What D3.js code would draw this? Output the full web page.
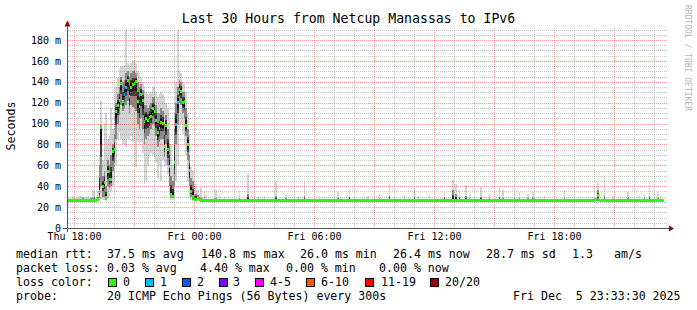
<!DOCTYPE html>
<html>
<head>
<meta charset="utf-8">
<script src="https://cdn.jsdelivr.net/npm/d3@7"></script>
<style>
  body { margin: 0; background: #fff; }
  svg { display: block; font-family: "DejaVu Sans Mono", monospace; }
</style>
</head>
<body>
<svg id="chart" width="697" height="310"></svg>
<script>
// first 5 minute step starts Thu 17:39, graph covers 30 hours
const t0 = new Date(2025, 11, 4, 17, 39);
const nSteps = 358;

// busy part of the graph, steps 0..83 (median + smoke percentiles, ms)
const medBusy = [26.6,26.6,26.5,26.5,26.6,26.6,26.5,26.5,26.6,26.8,26.6,26.5,26.5,26.6,26.6,26.5,26.7,26.6,
  27,35,96,40,44,29,54,46,46,73,75,112,
  117,122,138,121,128,135,141,126,135,137,138,140,
  121,116,128,122,102,105,103,106,107,114,112,103,
  91,95,101,100,78,98,75,59,32,30,63,99,
  120,133,131,120,121,98,80,55,35,30,27,27.5,
  28,27.5,26.8,26.5,26.5,26.5];
const loBusy = [25.8,25.8,25.9,25.8,25.8,25.9,25.8,25.8,25.8,25.9,25.8,25.8,25.8,25.8,25.9,25.8,25.8,25.8,
  26,27,28,27,27,26,28,30,35,40,45,60,
  85,92,85,80,80,78,85,85,88,82,85,58,
  82,80,82,72,42,45,60,68,72,70,68,62,
  48,60,45,65,58,60,52,32,27,27,28,45,
  60,95,100,90,80,70,45,30,27,26,26,26,
  26,26,26,26,26,26];
const q1Busy = [26.1,26.1,26.2,26.1,26.1,26.2,26.1,26.1,26.2,26.3,26.1,26.1,26.1,26.2,26.2,26.1,26.3,26.2,
  26.5,29,40,30,30,27,40,38,40,55,62,85,
  100,108,118,112,115,118,122,110,118,116,115,112,
  100,95,105,95,80,85,88,90,95,100,98,88,
  78,82,85,85,68,80,60,40,29,29,40,80,
  100,120,118,110,105,88,65,40,30,27,26.5,26.5,
  27,26.5,26.3,26.2,26.2,26.2];
const q3Busy = [27.8,27.6,27.9,27.5,27.8,28,27.6,27.7,28.2,28.5,27.9,27.6,27.8,28,28.3,29,30,28,
  30,60,99,50,55,40,65,60,70,80,90,120,
  128,135,145,140,142,148,150,145,148,150,150,148,
  140,135,138,132,118,118,115,118,120,125,125,118,
  110,110,115,112,100,108,95,80,50,45,95,120,
  135,142,140,130,130,115,95,70,48,45,32,33,
  32,30,29,28,28,28];
const hiBusy = [29,30,29,31,29,29,30,32,31,30,29,30,31,29,30,36,35,30,
  35,70,122,65,100,110,85,88,115,95,118,135,
  145,152,155,155,156,191,158,156,158,160,161,158,
  150,148,145,140,135,130,128,130,130,135,135,130,
  125,128,130,128,125,120,115,105,80,60,110,140,
  190,150,148,140,138,130,110,90,58,55,40,42,
  36,33,38,30,34,32];

// steps with one lost ping out of 20
const lossSteps = [34, 35, 65, 66];

// quiet part, steps 84..357
const quietMedian = 26.5;
const quietBand = [25.8, 26.1, 27.6];   // lo, q1, q3
const spikeStep = [89,91,94,103,108,114,118,125,131,138,142,151,162,169,180,187,193,202,208,210,217,226,231,233,235,239,241,248,253,259,261,268,271,276,279,286,298,318,322,327,336,343,346,349,354];
const spikeHi = [36,31,30,35,52,30,31,44,32,30,45,31,34,37,31,33,42,32,38,31,32,34,46,42,36,41,33,39,33,39,36,33,34,33,34,31,36,43,49,31,34,32,33,43,34];
const spikeMid = [29,28,28,29,33,28,28,31,29,28,31,28,29,30,28,29,31,28,30,28,28,30,36,33,30,31,29,30,29,30,29,29,29,29,29,28,29,36,31,28,29,28,29,31,29];
const bumpStep = [317, 318];
const bumpMed = [27.5, 31.5];

const yTicks = [0, 20, 40, 60, 80, 100, 120, 140, 160, 180];

const lossColors = ["#26ff00", "#00b8ff", "#0059ff", "#7e00ff", "#ff00ff", "#ff5500", "#ff0000", "#a10000"];
const lossLabels = ["0", "1", "2", "3", "4-5", "6-10", "11-19", "20/20"];

const rttRow = ["median rtt:", "37.5 ms avg", "140.8 ms max", "26.0 ms min", "26.4 ms now", "28.7 ms sd", "1.3", "am/s"];
const lossRow = ["packet loss:", "0.03 % avg", "4.40 % max", "0.00 % min", "0.00 % now"];
const probeRow = ["probe:", "20 ICMP Echo Pings (56 Bytes) every 300s", "Fri Dec  5 23:33:30 2025"];

// ---- build rows
let rows = [];
for (let i = 0; i < nSteps; i++) {
  let r = {i: i, loss: 0};
  if (i < medBusy.length) {
    r.med = medBusy[i]; r.lo = loBusy[i]; r.q1 = q1Busy[i]; r.q3 = q3Busy[i]; r.hi = hiBusy[i];
  } else {
    r.med = quietMedian; r.lo = quietBand[0]; r.q1 = quietBand[1]; r.q3 = quietBand[2]; r.hi = quietBand[2];
  }
  if (lossSteps.includes(i)) r.loss = 1;
  let b = bumpStep.indexOf(i);
  if (b >= 0) r.med = bumpMed[b];
  let s = spikeStep.indexOf(i);
  if (s >= 0) { r.hi = spikeHi[s]; r.q3 = spikeMid[s]; }
  r.t = d3.timeMinute.offset(t0, i * 5);
  r.t1 = d3.timeMinute.offset(t0, (i + 1) * 5);
  rows.push(r);
}

const svg = d3.select("#chart");
const x = d3.scaleTime().domain([t0, d3.timeHour.offset(t0, 30)]).range([67, 667]);
const y = d3.scaleLinear().domain([0, 191.5]).range([228, 28]);

svg.append("rect").attr("width", 697).attr("height", 310).attr("fill", "#fff");

// dotted grid via tiny patterns (1px on, 1px off)
const defs = svg.append("defs");
function dots(id, w, h, color) {
  const p = defs.append("pattern").attr("id", id).attr("patternUnits", "userSpaceOnUse")
    .attr("width", w).attr("height", h);
  p.append("rect").attr("width", 1).attr("height", 1).attr("fill", color);
}
const minorCol = "rgba(110,110,110,0.42)";
const majorCol = "rgba(230,50,50,0.48)";
dots("hMinor", 2, 1, minorCol);
dots("vMinor", 1, 2, minorCol);
dots("hMajor", 2, 1, majorCol);
dots("vMajor", 1, 2, majorCol);

// ---- smoke
const smoke = svg.append("g").attr("shape-rendering", "crispEdges");
function band(lo, hi, color) {
  smoke.append("g").selectAll("rect").data(rows).join("rect")
    .attr("x", d => x(d.t))
    .attr("width", d => x(d.t1) - x(d.t))
    .attr("y", d => y(hi(d)))
    .attr("height", d => Math.max(0, y(lo(d)) - y(hi(d))))
    .attr("fill", color);
}
band(d => d.lo, d => d.hi, "#d4d4d4");
band(d => d.q1, d => d.q3, "#8a8a8a");
band(d => (d.q1 + d.med) / 2, d => (d.q3 + d.med) / 2, "#3c3c3c");
band(d => d.med - (d.med - d.q1) * 0.3, d => d.med + (d.q3 - d.med) * 0.3, "#141414");

// ---- grid
const grid = svg.append("g").attr("shape-rendering", "crispEdges");
const minorY = d3.range(5, 191, 5).filter(d => d % 20 != 0);
const hourTicks = x.ticks(d3.timeHour.every(1));
grid.append("g").selectAll("rect").data(minorY).join("rect")
  .attr("x", 67).attr("width", 600).attr("y", d => Math.round(y(d))).attr("height", 1)
  .attr("fill", "url(#hMinor)");
grid.append("g").selectAll("rect").data(hourTicks.filter(d => d.getHours() % 3 != 0)).join("rect")
  .attr("x", d => Math.round(x(d))).attr("width", 1).attr("y", 28).attr("height", 200)
  .attr("fill", "url(#vMinor)");
grid.append("g").selectAll("rect").data(yTicks.slice(1)).join("rect")
  .attr("x", 67).attr("width", 600).attr("y", d => Math.round(y(d))).attr("height", 1)
  .attr("fill", "url(#hMajor)");
grid.append("g").selectAll("rect").data(hourTicks.filter(d => d.getHours() % 3 == 0)).join("rect")
  .attr("x", d => Math.round(x(d))).attr("width", 1).attr("y", 28).attr("height", 200)
  .attr("fill", "url(#vMajor)");

// ---- median, one little block per step coloured by loss
svg.append("g").attr("shape-rendering", "crispEdges").selectAll("rect").data(rows).join("rect")
  .attr("x", d => x(d.t))
  .attr("width", d => x(d.t1) - x(d.t))
  .attr("y", d => y(d.med) - 1.5)
  .attr("height", 3)
  .attr("fill", d => lossColors[d.loss]);

// ---- axes
const yAxis = svg.append("g").attr("transform", "translate(67,0)")
  .call(d3.axisLeft(y).tickValues(yTicks).tickSize(0).tickPadding(6)
    .tickFormat(d => d == 0 ? "0" : d + " m"));
yAxis.select(".domain").remove();
yAxis.selectAll("text").attr("font-family", "DejaVu Sans Mono").attr("font-size", 10).attr("fill", "#000");

const labelTicks = x.ticks(d3.timeHour.every(6));
const xAxis = svg.append("g").attr("transform", "translate(0,228)")
  .call(d3.axisBottom(x).tickValues(labelTicks).tickSize(0).tickPadding(5)
    .tickFormat(d3.timeFormat("%a %H:%M")));
xAxis.select(".domain").remove();
xAxis.selectAll("text").attr("font-family", "DejaVu Sans Mono").attr("font-size", 10).attr("fill", "#000");

svg.append("line").attr("x1", 67.5).attr("x2", 67.5).attr("y1", 24).attr("y2", 232).attr("stroke", "#555");
svg.append("line").attr("x1", 63).attr("x2", 670).attr("y1", 228.5).attr("y2", 228.5).attr("stroke", "#555");
svg.append("path").attr("d", "M64.5,26.5L70.5,26.5L67.5,20.5Z").attr("fill", "#8b0000");
svg.append("path").attr("d", "M669,225.5L669,231.5L674,228.5Z").attr("fill", "#8b0000");

// ---- titles
svg.append("text").attr("x", 348.5).attr("y", 23).attr("text-anchor", "middle")
  .attr("font-size", 13.2).text("Last 30 Hours from Netcup Manassas to IPv6");
svg.append("text").attr("transform", "translate(15,126) rotate(-90)").attr("text-anchor", "middle")
  .attr("font-size", 11.6).text("Seconds");
svg.append("text").attr("transform", "translate(685,5) rotate(90)")
  .attr("font-size", 8).attr("fill", "#b4b4b4").text("RRDTOOL / TOBI OETIKER");

// ---- legend
const lg = svg.append("g").attr("font-size", 11.6).attr("fill", "#000");
function row(items, xs, yy) {
  lg.append("g").selectAll("text").data(items).join("text")
    .attr("x", (d, i) => xs[i]).attr("y", yy).attr("xml:space", "preserve").text(d => d);
}
row(rttRow, [16, 107, 201, 300, 393, 486, 572, 614], 258);
row(lossRow, [16, 107, 200, 286, 379], 272);
row(["loss color:"], [16], 286);
const boxX = [108.5, 145.5, 182.5, 219.5, 255.5, 306.5, 365.5, 430.5];
const lblX = [123, 160, 197, 233, 270, 321, 381, 445];
lg.append("g").selectAll("rect").data(lossColors).join("rect")
  .attr("x", (d, i) => boxX[i]).attr("y", 278.5).attr("width", 8).attr("height", 8)
  .attr("fill", d => d).attr("stroke", "#000").attr("stroke-width", 1);
row(lossLabels, lblX, 286);
row(probeRow, [16, 107, 513], 300);
</script>
</body>
</html>
